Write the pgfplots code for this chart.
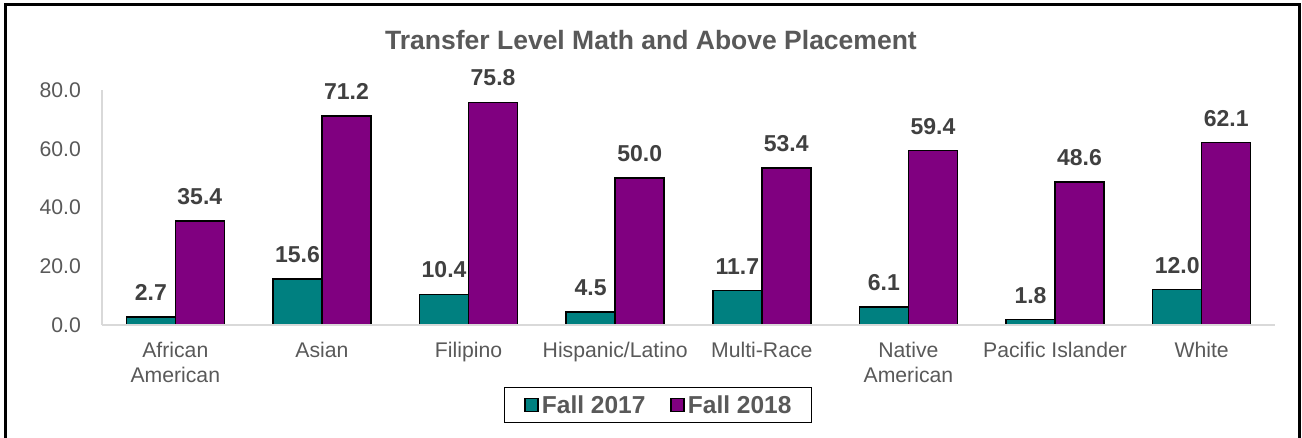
\documentclass[border=0pt]{standalone}
\usepackage{pgfplots}
\pgfplotsset{compat=1.18}
\usepackage{fontspec}
\setmainfont{Liberation Sans}
\definecolor{teal1}{HTML}{008080}
\definecolor{purp}{HTML}{800080}
\definecolor{txtgray}{HTML}{595959}
\definecolor{lblgray}{HTML}{404040}
\definecolor{axgray}{HTML}{D9D9D9}
\begin{document}
\begin{tikzpicture}[x=1pt,y=1pt]
\useasboundingbox (0,0) rectangle (1302,438);
\fill[white] (0,0) rectangle (1302,438);
\begin{axis}[
 at={(102pt,113pt)}, anchor=south west, scale only axis,
 width=1173pt, height=235pt,
 xmin=-0.5, xmax=7.5, ymin=0, ymax=80,
 ybar=0pt, bar width=49pt,
 axis lines=left, axis line style={-, draw=axgray, line width=1.3pt},
 axis on top,
 major tick length=0pt,
 /pgf/number format/assume math mode=true,
 xtick={0,...,7},
 xticklabels={{African\\American},Asian,Filipino,{Hispanic/Latino},{Multi-Race},{Native\\American},{Pacific Islander},White},
 xticklabel style={font=\fontsize{21.2}{24.5}\selectfont, text=txtgray, align=center, inner sep=0pt, yshift=-17pt},
 ytick={0,20,...,80},
 yticklabel style={font=\fontsize{21.2}{24.5}\selectfont, text=txtgray, inner sep=0pt, xshift=-21pt, /pgf/number format/.cd, fixed, fixed zerofill, precision=1},
 nodes near coords={\pgfmathprintnumber[fixed,fixed zerofill,precision=1]{\pgfplotspointmeta}},
 every node near coord/.append style={font=\bfseries\fontsize{23}{27}\selectfont, text=lblgray, inner sep=0pt, yshift=15.5pt},
 legend style={at={(axis description cs:0.4740,-0.340)}, anchor=center, draw=black, line width=1.5pt, legend columns=2, font=\bfseries\fontsize{24.5}{29}\selectfont, text=txtgray, inner xsep=20pt, inner ysep=8pt, nodes={inner sep=0pt}, /tikz/every odd column/.append style={column sep=3pt}, /tikz/every even column/.append style={column sep=25pt}},
 legend image code/.code={\draw[#1, line width=1.5pt] (0pt,-6.5pt) rectangle (13pt,6.5pt);},
]
\addplot[fill=teal1, draw=black, line width=1.5pt] coordinates {(0,2.7) (1,15.6) (2,10.4) (3,4.5) (4,11.7) (5,6.1) (6,1.8) (7,12.0)};
\addplot[fill=purp, draw=black, line width=1.5pt] coordinates {(0,35.4) (1,71.2) (2,75.8) (3,50.0) (4,53.4) (5,59.4) (6,48.6) (7,62.1)};
\legend{Fall 2017, Fall 2018}
\end{axis}
\node[anchor=base, font=\bfseries\fontsize{26.5}{31}\selectfont, text=txtgray] at (651,388) {Transfer Level Math and Above Placement};
\draw[black, line width=3pt] (5.5,-20) rectangle (1299,433.5);
\end{tikzpicture}
\end{document}
